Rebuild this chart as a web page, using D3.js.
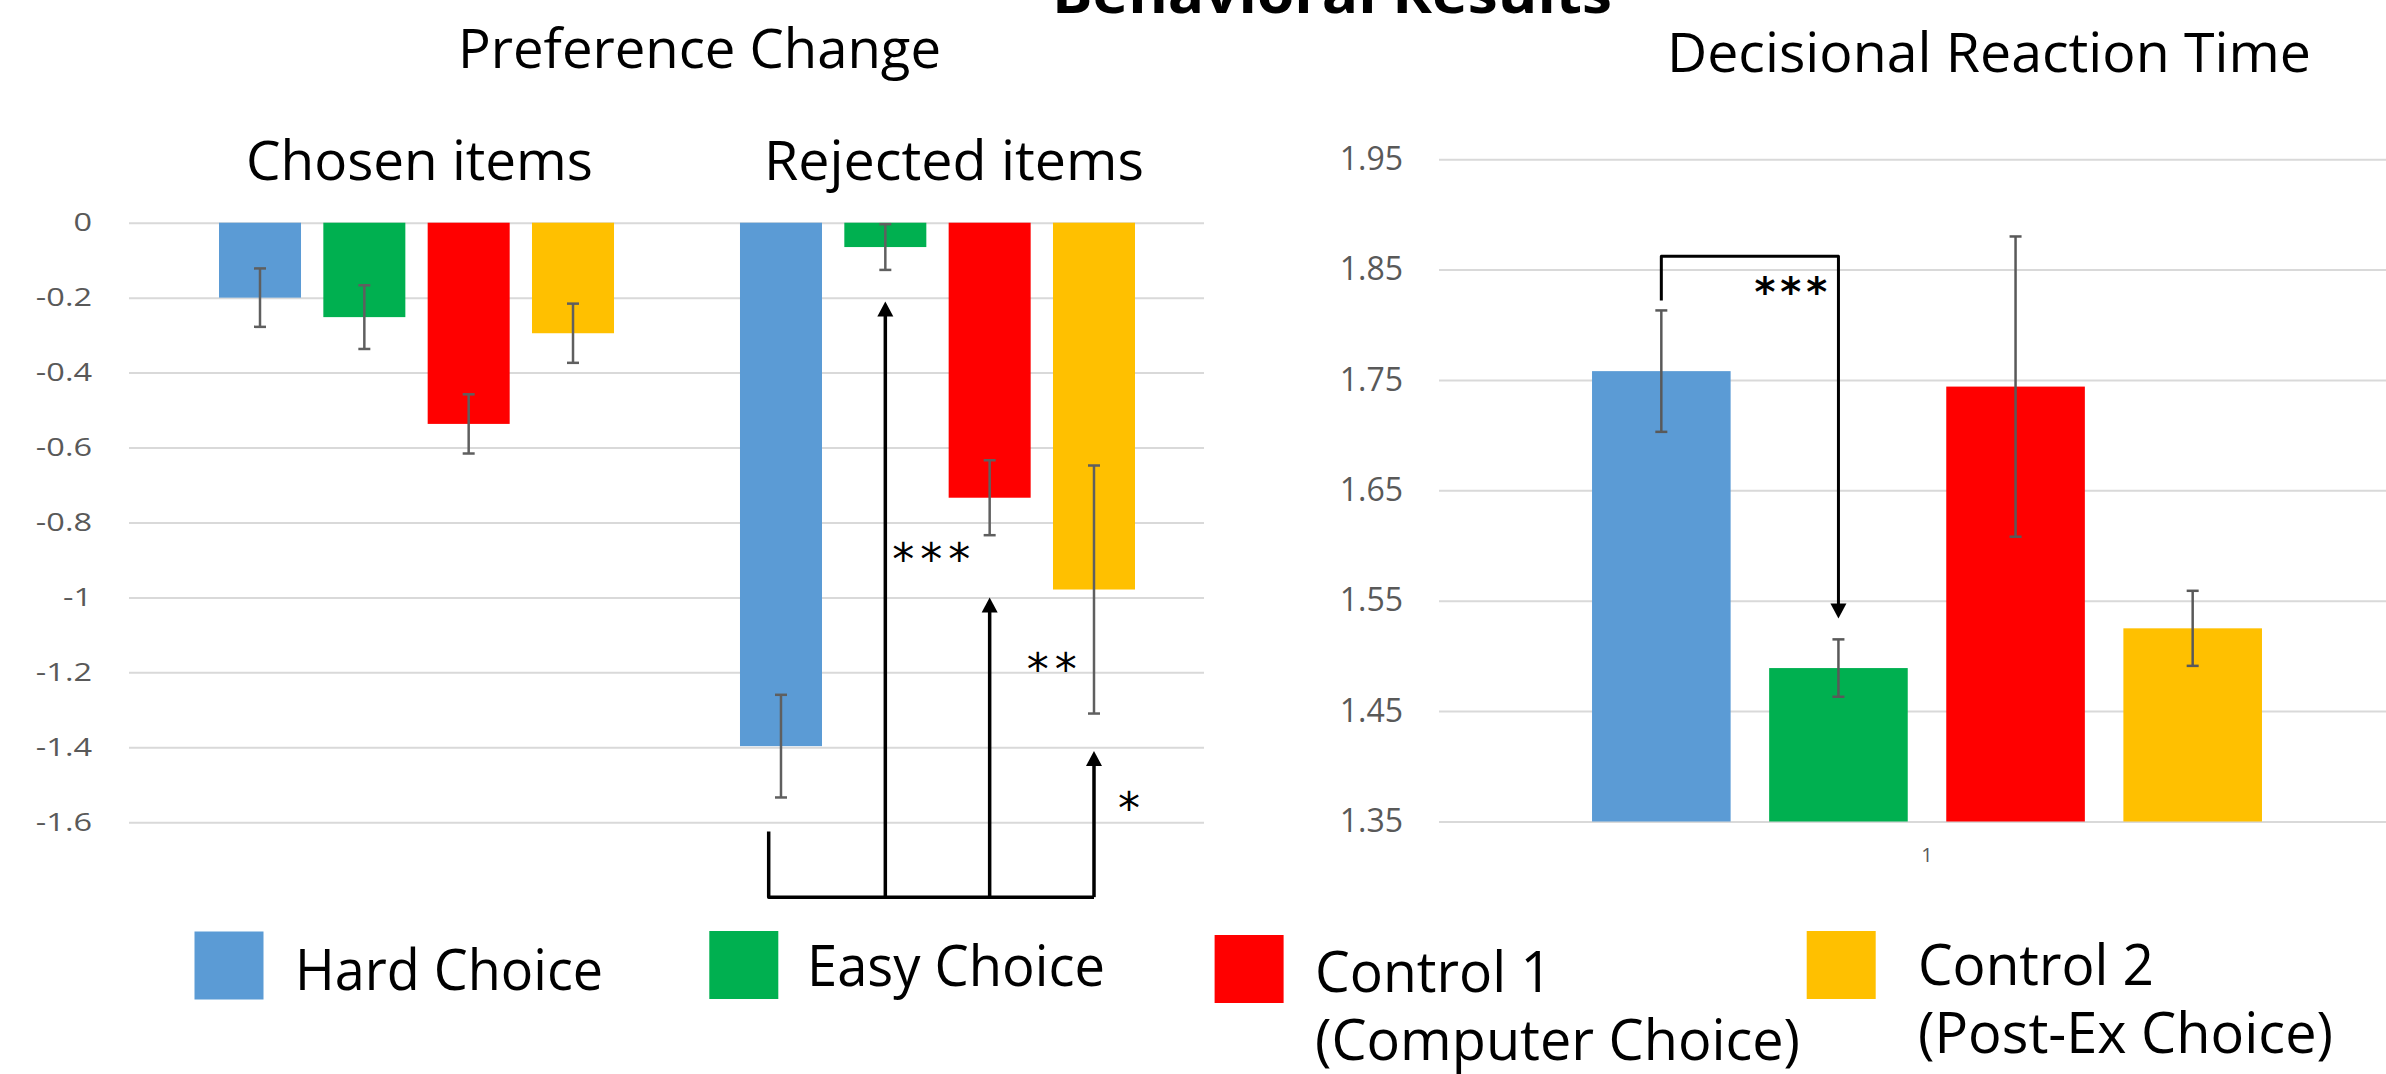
<!DOCTYPE html>
<html>
<head>
<meta charset="utf-8">
<title>Behavioral Results</title>
<script src="https://cdn.jsdelivr.net/npm/d3@7"></script>
<style>
  html, body { margin: 0; padding: 0; background: #ffffff; }
  svg { display: block; }
</style>
</head>
<body>
<svg id="fig" width="2386" height="1074"></svg>
<script>
// ---------------- data ----------------
const series = ["Hard Choice", "Easy Choice", "Control 1", "Control 2"];
const seriesColors = ["#5B9BD5", "#00B050", "#FF0000", "#FFC000"];

// Preference change (chosen / rejected items), means and error bars
const prefGroups = ["Chosen items", "Rejected items"];
const prefChosen = [-0.200, -0.252, -0.537, -0.295];
const prefChosenErr = [0.078, 0.085, 0.079, 0.079];
const prefRejected = [-1.397, -0.065, -0.734, -0.979];
const prefRejectedErr = [0.137, 0.061, 0.100, 0.331];
const prefTicks = [0, -0.2, -0.4, -0.6, -0.8, -1, -1.2, -1.4, -1.6];
const prefTickLabels = ["0", "-0.2", "-0.4", "-0.6", "-0.8", "-1", "-1.2", "-1.4", "-1.6"];

// Decisional reaction time
const rtCategory = ["1"];
const rtMeans = [1.758, 1.489, 1.744, 1.525];
const rtErr = [0.055, 0.026, 0.136, 0.034];
const rtTicks = [1.35, 1.45, 1.55, 1.65, 1.75, 1.85, 1.95];
const rtTickLabels = ["1.35", "1.45", "1.55", "1.65", "1.75", "1.85", "1.95"];

// Significance comparisons: [reference, compared, stars]
const prefSig = [
  ["Hard Choice", "Easy Choice", "***"],
  ["Hard Choice", "Control 1", "**"],
  ["Hard Choice", "Control 2", "*"]
];
const rtSig = [["Hard Choice", "Easy Choice", "***"]];

const legendLines = [
  ["Hard Choice"],
  ["Easy Choice"],
  ["Control 1", "(Computer Choice)"],
  ["Control 2", "(Post-Ex Choice)"]
];

// ---------------- setup ----------------
const svg = d3.select("#fig");
const SANS = "'Open Sans', 'Noto Sans', 'DejaVu Sans', sans-serif";
const STAR = "'DejaVu Sans', sans-serif";
const color = d3.scaleOrdinal().domain(series).range(seriesColors);

svg.append("rect").attr("width", 2386).attr("height", 1074).attr("fill", "#ffffff");

function label(x, y, str, size, width, opts = {}) {
  const t = svg.append("text")
    .attr("x", x).attr("y", y)
    .style("font-family", SANS)
    .style("font-size", size + "px")
    .style("font-weight", opts.bold ? 700 : 400)
    .attr("fill", opts.fill || "#000")
    .text(str);
  if (width) t.attr("textLength", width).attr("lengthAdjust", "spacingAndGlyphs");
  return t;
}

function errorBars(g, data, xc, y, stroke, sw) {
  const cap = 6;
  const eb = g.selectAll("g.eb").data(data).join("g").attr("class", "eb")
    .attr("stroke", stroke).attr("stroke-width", sw).attr("fill", "none");
  eb.append("line")
    .attr("x1", d => xc(d)).attr("x2", d => xc(d))
    .attr("y1", d => y(d.v + d.e)).attr("y2", d => y(d.v - d.e));
  eb.append("line")
    .attr("x1", d => xc(d) - cap).attr("x2", d => xc(d) + cap)
    .attr("y1", d => y(d.v + d.e)).attr("y2", d => y(d.v + d.e));
  eb.append("line")
    .attr("x1", d => xc(d) - cap).attr("x2", d => xc(d) + cap)
    .attr("y1", d => y(d.v - d.e)).attr("y2", d => y(d.v - d.e));
}

function arrowHead(g, x, tipY, dir) {
  // dir = -1 pointing up, +1 pointing down
  const w = 8, h = 15;
  g.append("path")
    .attr("d", `M${x},${tipY} L${x - w},${tipY - dir * h} L${x + w},${tipY - dir * h} Z`)
    .attr("fill", "#000");
}

// ---------------- titles ----------------
label(1052, 13, "Behavioral Results", 56, 560, { bold: true });
label(458, 68, "Preference Change", 54, 483);
label(1667, 72, "Decisional Reaction Time", 55, 644);
label(246, 180, "Chosen items", 55, 347);
label(764, 180, "Rejected items", 55, 380);

// ---------------- preference change chart ----------------
const yP = d3.scaleLinear().domain([-1.6, 0]).range([822.2, 222.7]);
const x0 = d3.scaleBand().domain(prefGroups).range([219, 1135]).paddingInner(0.2418);
const x1 = d3.scaleBand().domain(series).range([0, x0.bandwidth()]).paddingInner(0.214);

const gridL = 129, gridR = 1204;
const axL = svg.append("g").attr("transform", `translate(${gridL},0)`)
  .call(d3.axisLeft(yP).tickValues(prefTicks)
    .tickFormat((d, i) => prefTickLabels[i])
    .tickSizeInner(-(gridR - gridL)).tickSizeOuter(0).tickPadding(37));
axL.select(".domain").remove();
axL.selectAll(".tick line").attr("stroke", "#d9d9d9").attr("stroke-width", 2);
const sxL = 1.3;
axL.selectAll(".tick text")
  .attr("fill", "#595959")
  .style("font-family", SANS).style("font-size", "25px")
  .attr("x", -37 / sxL)
  .attr("transform", `scale(${sxL},1)`);

const prefData = [
  { group: "Chosen items", vals: prefChosen, errs: prefChosenErr },
  { group: "Rejected items", vals: prefRejected, errs: prefRejectedErr }
].map(g => ({ group: g.group, items: series.map((s, i) => ({ s, v: g.vals[i], e: g.errs[i] })) }));

const gPref = svg.append("g");
prefData.forEach(grp => {
  const gg = gPref.append("g").attr("transform", `translate(${x0(grp.group)},0)`);
  gg.selectAll("rect").data(grp.items).join("rect")
    .attr("x", d => x1(d.s))
    .attr("y", yP(0))
    .attr("width", x1.bandwidth())
    .attr("height", d => yP(d.v) - yP(0))
    .attr("fill", d => color(d.s));
  errorBars(gg, grp.items, d => x1(d.s) + x1.bandwidth() / 2, yP, "#5f5f5f", 2.5);
});

// significance brackets for rejected items
{
  const cx = s => x0("Rejected items") + x1(s) + x1.bandwidth() / 2;
  const tipVal = { "Easy Choice": -0.21, "Control 1": -1.0, "Control 2": -1.41 };
  const starLayout = {
    "Easy Choice": { dx: 7, val: -0.873 },
    "Control 1": { dx: 37, val: -1.166 },
    "Control 2": { dx: 24, val: -1.537 }
  };
  const baseY = yP(-1.80);
  const hookTop = yP(-1.625);
  const hookX = x0("Rejected items") + x1("Hard Choice") + x1.bandwidth() * 0.35;
  const lastX = cx(prefSig[prefSig.length - 1][1]);
  const g = svg.append("g");
  g.append("path")
    .attr("d", `M${hookX},${hookTop} V${baseY} H${lastX}`)
    .attr("fill", "none").attr("stroke", "#000").attr("stroke-width", 3.5)
    .attr("stroke-linejoin", "round");
  prefSig.forEach(([ref, tgt, stars]) => {
    const x = cx(tgt);
    const tip = yP(tipVal[tgt]);
    g.append("line").attr("x1", x).attr("x2", x).attr("y1", baseY).attr("y2", tip + 12)
      .attr("stroke", "#000").attr("stroke-width", 3.5);
    arrowHead(g, x, tip, -1);
    const lay = starLayout[tgt];
    g.append("text")
      .attr("x", x + lay.dx)
      .attr("y", yP(lay.val) + 25)
      .style("font-family", STAR).style("font-size", "44px")
      .style("letter-spacing", "6px")
      .attr("fill", "#000")
      .text(stars);
  });
}

// ---------------- reaction time chart ----------------
const yR = d3.scaleLinear().domain([1.35, 1.95]).range([821.5, 159.2]);
const xR0 = d3.scaleBand().domain(rtCategory).range([1439, 2415]);
const xR1 = d3.scaleBand().domain(series).range([0, xR0.bandwidth()])
  .paddingInner(0.2175).paddingOuter(0.864);

const gridRL = 1439;
const axR = svg.append("g").attr("transform", `translate(${gridRL},0)`)
  .call(d3.axisLeft(yR).tickValues(rtTicks)
    .tickFormat((d, i) => rtTickLabels[i])
    .tickSizeInner(-(2386 - gridRL)).tickSizeOuter(0).tickPadding(36));
axR.select(".domain").remove();
axR.selectAll(".tick line").attr("stroke", "#d9d9d9").attr("stroke-width", 2);
axR.selectAll(".tick text")
  .attr("fill", "#595959")
  .style("font-family", SANS).style("font-size", "32px");

const axRB = svg.append("g").attr("transform", `translate(0,${yR(1.35)})`)
  .call(d3.axisBottom(xR0).tickSize(0).tickPadding(26));
axRB.select(".domain").remove();
axRB.selectAll(".tick text")
  .attr("fill", "#595959")
  .style("font-family", SANS).style("font-size", "20px");

const rtData = series.map((s, i) => ({ s, v: rtMeans[i], e: rtErr[i] }));
const gRT = svg.append("g").attr("transform", `translate(${xR0("1")},0)`);
gRT.selectAll("rect").data(rtData).join("rect")
  .attr("x", d => xR1(d.s))
  .attr("y", d => yR(d.v))
  .attr("width", xR1.bandwidth())
  .attr("height", d => yR(1.35) - yR(d.v))
  .attr("fill", d => color(d.s));
errorBars(gRT, rtData, d => xR1(d.s) + xR1.bandwidth() / 2, yR, "#595959", 2.5);

// significance bracket for reaction time
{
  const cx = s => xR0("1") + xR1(s) + xR1.bandwidth() / 2;
  const g = svg.append("g");
  rtSig.forEach(([a, b, stars]) => {
    const xa = cx(a), xb = cx(b);
    const top = yR(1.862), start = yR(1.822), tip = yR(1.534);
    g.append("path")
      .attr("d", `M${xa},${start} V${top} H${xb} V${tip - 12}`)
      .attr("fill", "none").attr("stroke", "#000").attr("stroke-width", 3)
      .attr("stroke-linejoin", "round");
    arrowHead(g, xb, tip, 1);
    g.append("text")
      .attr("x", xb - 84)
      .attr("y", yR(1.838) + 23)
      .style("font-family", STAR).style("font-size", "40px").style("font-weight", 700)
      .style("letter-spacing", "5px")
      .attr("fill", "#000")
      .text(stars);
  });
}

// ---------------- legend ----------------
const legendLayout = [
  { sx: 194.5, sy: 931.5, tx: 295, ty: [990], tw: [308] },
  { sx: 709.3, sy: 931, tx: 807, ty: [986], tw: [298] },
  { sx: 1214.6, sy: 935, tx: 1315, ty: [991.7, 1060], tw: [237, 485] },
  { sx: 1806.7, sy: 931, tx: 1918, ty: [985, 1053.3], tw: [236, 415] }
];
const gLeg = svg.append("g");
series.forEach((s, i) => {
  const L = legendLayout[i];
  gLeg.append("rect").attr("x", L.sx).attr("y", L.sy).attr("width", 69).attr("height", 68)
    .attr("fill", color(s));
  legendLines[i].forEach((line, j) => {
    label(L.tx, L.ty[j], line, 57, L.tw[j]);
  });
});
</script>
</body>
</html>
